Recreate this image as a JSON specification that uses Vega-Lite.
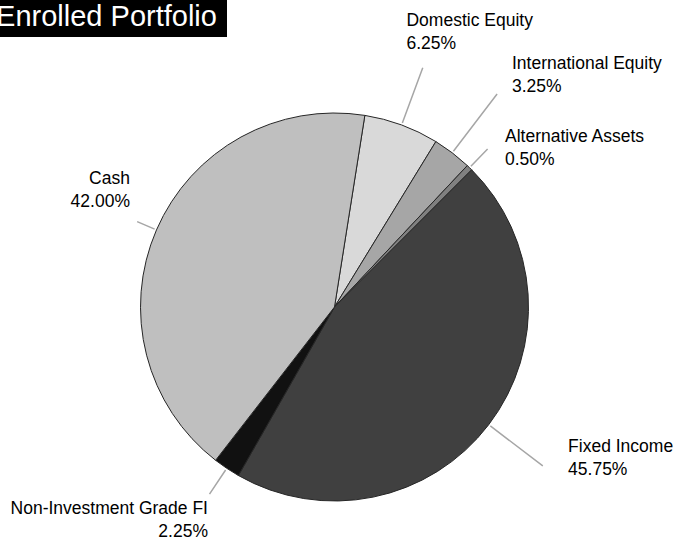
{
  "$schema": "https://vega.github.io/schema/vega-lite/v6.json",
  "padding": 0,
  "background": "white",
  "bounds": "flush",
  "spacing": 33,
  "config": {"view": {"stroke": null}},
  "datasets": {
    "alloc": [
      {"category": "Domestic Equity", "value": 6.25, "rank": 1},
      {"category": "International Equity", "value": 3.25, "rank": 2},
      {"category": "Alternative Assets", "value": 0.5, "rank": 3},
      {"category": "Fixed Income", "value": 45.75, "rank": 4},
      {"category": "Non-Investment Grade FI", "value": 2.25, "rank": 5},
      {"category": "Cash", "value": 42.0, "rank": 6}
    ]
  },
  "vconcat": [
    {
      "width": 227,
      "height": 37,
      "view": {"fill": "#000000", "stroke": null},
      "data": {"values": [{"title": "Enrolled Portfolio"}]},
      "mark": {"type": "text", "color": "#ffffff", "font": "Liberation Sans, Arial, sans-serif", "fontSize": 29, "align": "center", "baseline": "alphabetic", "dx": -7, "dy": 7.5, "clip": true},
      "encoding": {"text": {"field": "title"}}
    },
    {
      "width": 669,
      "height": 474,
      "data": {"name": "alloc"},
      "transform": [
        {"stack": "value", "groupby": [], "sort": [{"field": "rank", "order": "ascending"}], "as": ["s0", "s1"]},
        {"calculate": "(datum.s0 + datum.s1) / 2", "as": "mid"},
        {"calculate": "datum.category + '\\n' + format(datum.value, '.2f') + '%'", "as": "label"}
      ],
      "layer": [
        {
          "mark": {"type": "arc", "outerRadius": 194, "stroke": "#262626", "strokeWidth": 1},
          "encoding": {
            "theta": {"field": "s0", "type": "quantitative", "stack": null, "scale": {"domain": [0, 100], "range": [0.15708, 6.44026]}},
            "theta2": {"field": "s1"},
            "color": {"field": "category", "type": "nominal", "legend": null,
              "scale": {"domain": ["Domestic Equity", "International Equity", "Alternative Assets", "Fixed Income", "Non-Investment Grade FI", "Cash"],
                        "range": ["#d9d9d9", "#a6a6a6", "#808080", "#404040", "#111111", "#bfbfbf"]}}
          }
        },
        {
          "transform": [{"filter": "datum.category === 'Domestic Equity'"}],
          "layer": [
            {"mark": {"type": "arc", "innerRadius": 196, "outerRadius": 255, "filled": false, "color": "#a6a6a6", "strokeWidth": 1.5},
             "encoding": {"theta": {"field": "mid", "type": "quantitative", "stack": null}, "theta2": {"field": "mid"}}},
            {"mark": {"type": "text", "radius": 255, "align": "left", "baseline": "alphabetic", "dx": -16.3, "dy": -41.3, "lineBreak": "\n", "lineHeight": 23, "font": "Liberation Sans, Arial, sans-serif", "fontSize": 17.5, "color": "#000000"},
             "encoding": {"theta": {"field": "mid", "type": "quantitative", "stack": null}, "text": {"field": "label"}}}
          ]
        },
        {
          "transform": [{"filter": "datum.category === 'International Equity'"}],
          "layer": [
            {"mark": {"type": "arc", "innerRadius": 196, "outerRadius": 268, "filled": false, "color": "#a6a6a6", "strokeWidth": 1.5},
             "encoding": {"theta": {"field": "mid", "type": "quantitative", "stack": null}, "theta2": {"field": "mid"}}},
            {"mark": {"type": "text", "radius": 268, "align": "left", "baseline": "alphabetic", "dx": 14.9, "dy": -25, "lineBreak": "\n", "lineHeight": 23, "font": "Liberation Sans, Arial, sans-serif", "fontSize": 17.5, "color": "#000000"},
             "encoding": {"theta": {"field": "mid", "type": "quantitative", "stack": null}, "text": {"field": "label"}}}
          ]
        },
        {
          "transform": [{"filter": "datum.category === 'Alternative Assets'"}],
          "layer": [
            {"mark": {"type": "arc", "innerRadius": 196, "outerRadius": 220, "filled": false, "color": "#a6a6a6", "strokeWidth": 1.5},
             "encoding": {"theta": {"field": "mid", "type": "quantitative", "stack": null}, "theta2": {"field": "mid"}}},
            {"mark": {"type": "text", "radius": 220, "align": "left", "baseline": "alphabetic", "dx": 17.4, "dy": -7, "lineBreak": "\n", "lineHeight": 23, "font": "Liberation Sans, Arial, sans-serif", "fontSize": 17.5, "color": "#000000"},
             "encoding": {"theta": {"field": "mid", "type": "quantitative", "stack": null}, "text": {"field": "label"}}}
          ]
        },
        {
          "transform": [{"filter": "datum.category === 'Fixed Income'"}],
          "layer": [
            {"mark": {"type": "arc", "innerRadius": 196, "outerRadius": 262, "filled": false, "color": "#a6a6a6", "strokeWidth": 1.5},
             "encoding": {"theta": {"field": "mid", "type": "quantitative", "stack": null}, "theta2": {"field": "mid"}}},
            {"mark": {"type": "text", "radius": 262, "align": "left", "baseline": "alphabetic", "dx": 25.3, "dy": -14, "lineBreak": "\n", "lineHeight": 23, "font": "Liberation Sans, Arial, sans-serif", "fontSize": 17.5, "color": "#000000"},
             "encoding": {"theta": {"field": "mid", "type": "quantitative", "stack": null}, "text": {"field": "label"}}}
          ]
        },
        {
          "transform": [{"filter": "datum.category === 'Non-Investment Grade FI'"}],
          "layer": [
            {"mark": {"type": "arc", "innerRadius": 196, "outerRadius": 225, "filled": false, "color": "#a6a6a6", "strokeWidth": 1.5},
             "encoding": {"theta": {"field": "mid", "type": "quantitative", "stack": null}, "theta2": {"field": "mid"}}},
            {"mark": {"type": "text", "radius": 225, "align": "right", "baseline": "alphabetic", "dx": -1.5, "dy": 19.9, "lineBreak": "\n", "lineHeight": 23, "font": "Liberation Sans, Arial, sans-serif", "fontSize": 17.5, "color": "#000000"},
             "encoding": {"theta": {"field": "mid", "type": "quantitative", "stack": null}, "text": {"field": "label"}}}
          ]
        },
        {
          "transform": [{"filter": "datum.category === 'Cash'"}],
          "layer": [
            {"mark": {"type": "arc", "innerRadius": 196, "outerRadius": 215, "filled": false, "color": "#a6a6a6", "strokeWidth": 1.5},
             "encoding": {"theta": {"field": "mid", "type": "quantitative", "stack": null}, "theta2": {"field": "mid"}}},
            {"mark": {"type": "text", "radius": 215, "align": "right", "baseline": "alphabetic", "dx": -7.2, "dy": -38.1, "lineBreak": "\n", "lineHeight": 23, "font": "Liberation Sans, Arial, sans-serif", "fontSize": 17.5, "color": "#000000"},
             "encoding": {"theta": {"field": "mid", "type": "quantitative", "stack": null}, "text": {"field": "label"}}}
          ]
        }
      ]
    }
  ]
}
